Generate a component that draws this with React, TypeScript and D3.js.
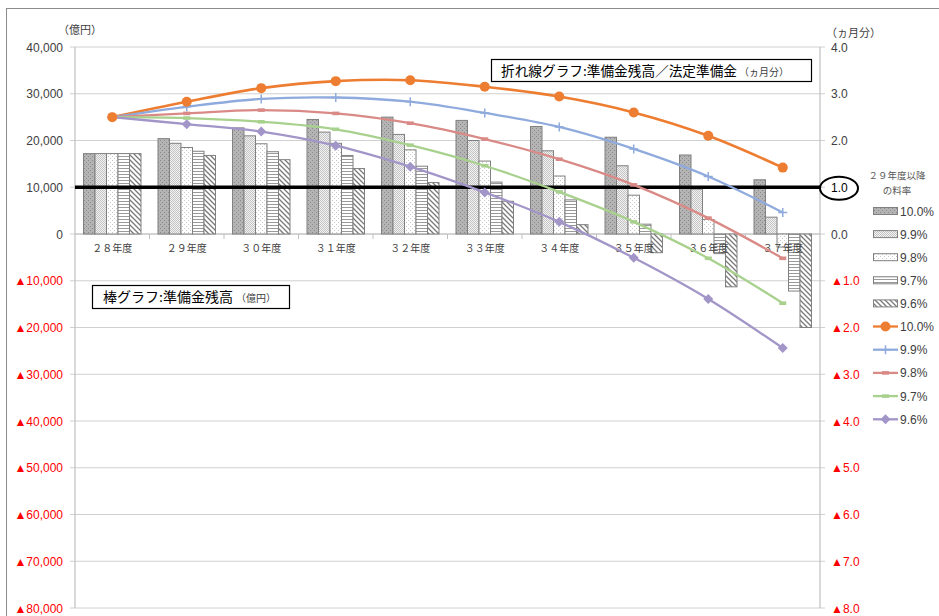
import React from "react";
import * as d3 from "d3";

const categories = ["２８年度", "２９年度", "３０年度", "３１年度", "３２年度", "３３年度", "３４年度", "３５年度", "３６年度", "３７年度"];
const seriesNames = ["10.0%", "9.9%", "9.8%", "9.7%", "9.6%"];

// 棒グラフ: 準備金残高 (億円)
const bar100 = [17200, 20400, 22700, 24500, 25000, 24300, 23000, 20700, 16900, 11600];
const bar99 = [17200, 19400, 21000, 21800, 21300, 20000, 17800, 14600, 9600, 3600];
const bar98 = [17200, 18500, 19300, 19400, 18000, 15600, 12400, 8300, 3100, -2800];
const bar97 = [17200, 17700, 17600, 16800, 14500, 11100, 7300, 2100, -4200, -12200];
const bar96 = [17200, 16800, 15900, 14000, 11000, 7000, 2000, -4000, -11300, -20000];

// 折れ線グラフ: 準備金残高／法定準備金 (ヵ月分)
const line100 = [2.5, 2.83, 3.12, 3.27, 3.29, 3.15, 2.94, 2.6, 2.1, 1.42];
const line99 = [2.5, 2.72, 2.89, 2.92, 2.83, 2.59, 2.29, 1.82, 1.23, 0.46];
const line98 = [2.5, 2.58, 2.65, 2.58, 2.37, 2.03, 1.6, 1.05, 0.34, -0.52];
const line97 = [2.5, 2.48, 2.4, 2.24, 1.9, 1.46, 0.9, 0.26, -0.52, -1.48];
const line96 = [2.5, 2.35, 2.19, 1.89, 1.44, 0.89, 0.26, -0.51, -1.39, -2.44];

const leftTicks = [40000, 30000, 20000, 10000, 0, -10000, -20000, -30000, -40000, -50000, -60000, -70000, -80000];
const rightTicks = [4, 3, 2, 1, 0, -1, -2, -3, -4, -5, -6, -7, -8];
const threshold = 1.0;

const bars = [bar100, bar99, bar98, bar97, bar96];
const lines = [line100, line99, line98, line97, line96];
const barFills = ["url(#p100)", "url(#p99)", "url(#p98)", "url(#p97)", "url(#p96)"];
const lineColors = ["#ED7D31", "#8FAADC", "#DA8A86", "#A9D18E", "#A295C8"];
const markers = ["circle", "plus", "dash", "dash", "diamond"];

const W = 939;
const H = 616;
const L = 75;
const R = 820;
const T = 47;
const B = 608;

const jp = "'Noto Sans CJK JP', 'Noto Sans', sans-serif";
const lat = "'Liberation Sans', Arial, sans-serif";

function Marker({ type, x, y, color }: { type: string; x: number; y: number; color: string }) {
  if (type === "circle") return <circle cx={x} cy={y} r={5} fill={color} />;
  if (type === "diamond")
    return <path d={`M${x},${y - 5}L${x + 5},${y}L${x},${y + 5}L${x - 5},${y}Z`} fill={color} />;
  if (type === "plus")
    return (
      <path d={`M${x - 4.5},${y}H${x + 4.5}M${x},${y - 4.5}V${y + 4.5}`} stroke={color} strokeWidth={1.5} fill="none" />
    );
  return <rect x={x - 3.5} y={y - 1.8} width={7} height={3.6} fill={color} />;
}

export default function App() {
  const x0 = d3.scaleBand<string>().domain(categories).range([L, R]).padding(0);
  const x1 = d3.scaleBand<string>().domain(seriesNames).range([8.5, x0.bandwidth() - 8.5]).padding(0);
  const yL = d3.scaleLinear().domain([-80000, 40000]).range([B, T]);
  const yR = d3.scaleLinear().domain([-8, 4]).range([B, T]);
  const cx = (c: string) => (x0(c) as number) + x0.bandwidth() / 2;

  const lineGen = d3
    .line<number>()
    .x((_, i) => cx(categories[i]))
    .y((v) => yR(v))
    .curve(d3.curveCatmullRom.alpha(0));

  const fmt = d3.format(",");

  return (
    <svg width={W} height={H} style={{ position: "absolute", left: 0, top: 0, background: "#fff" }}>
      <defs>
        <pattern id="p100" width="4" height="4" patternUnits="userSpaceOnUse">
          <rect width="4" height="4" fill="#b4b4b4" />
          <rect x="0" y="0" width="1" height="1" fill="#8a8a8a" />
          <rect x="2" y="2" width="1" height="1" fill="#8a8a8a" />
        </pattern>
        <pattern id="p99" width="2" height="2" patternUnits="userSpaceOnUse">
          <rect width="2" height="2" fill="#f2f2f2" />
          <rect x="0" y="0" width="1" height="1" fill="#c4c4c4" />
          <rect x="1" y="1" width="1" height="1" fill="#c4c4c4" />
        </pattern>
        <pattern id="p98" width="4" height="4" patternUnits="userSpaceOnUse">
          <rect width="4" height="4" fill="#ffffff" />
          <rect x="0" y="0" width="1" height="1" fill="#c8c8c8" />
          <rect x="2" y="2" width="1" height="1" fill="#c8c8c8" />
        </pattern>
        <pattern id="p97" width="4" height="3" patternUnits="userSpaceOnUse">
          <rect width="4" height="3" fill="#ffffff" />
          <rect x="0" y="0" width="4" height="1" fill="#9a9a9a" />
        </pattern>
        <pattern id="p96" width="5" height="5" patternUnits="userSpaceOnUse">
          <rect width="5" height="5" fill="#ffffff" />
          <path d="M0,0L5,5M-1,4L1,6M4,-1L6,1" stroke="#7a7a7a" strokeWidth="1.3" />
        </pattern>
      </defs>

      {/* outer chart border */}
      <rect x={6.5} y={8.5} width={W + 10} height={H + 10} fill="none" stroke="#8c8c8c" strokeWidth={1} />

      {/* gridlines */}
      {leftTicks.map((t) => (
        <line key={"g" + t} x1={L - 5} x2={R + 5} y1={yL(t)} y2={yL(t)} stroke="#d0d0d0" strokeWidth={1} />
      ))}
      {/* axes */}
      <line x1={L} x2={L} y1={T} y2={B} stroke="#c0c0c0" strokeWidth={1.2} />
      <line x1={R} x2={R} y1={T} y2={B} stroke="#c0c0c0" strokeWidth={1.2} />
      <line x1={L} x2={R} y1={yL(0)} y2={yL(0)} stroke="#c0c0c0" strokeWidth={1} />
      {categories.map((c, i) =>
        i === 0 ? null : (
          <line key={"ct" + c} x1={x0(c)} x2={x0(c)} y1={yL(0)} y2={yL(0) + 5} stroke="#c0c0c0" />
        )
      )}

      {/* left tick labels */}
      {leftTicks.map((t) => (
        <text
          key={"lt" + t}
          x={63}
          y={yL(t) + 4.5}
          textAnchor="end"
          fontFamily={lat}
          fontSize={12}
          fill={t < 0 ? "#ff0000" : "#404040"}
        >
          {t < 0 ? "▲" + fmt(-t) : fmt(t)}
        </text>
      ))}
      {/* right tick labels */}
      {rightTicks.map((t) => (
        <text
          key={"rt" + t}
          x={831}
          y={yR(t) + 4.5}
          textAnchor="start"
          fontFamily={lat}
          fontSize={12}
          fill={t < 0 ? "#ff0000" : t === threshold ? "#000" : "#404040"}
        >
          {t < 0 ? "▲" + (-t).toFixed(1) : t.toFixed(1)}
        </text>
      ))}
      <text x={58} y={34} fontFamily={jp} fontSize={11} fill="#404040">
        （億円）
      </text>
      <text x={826} y={37} fontFamily={jp} fontSize={11} fill="#404040">
        （ヵ月分）
      </text>

      {/* bars */}
      {bars.map((arr, s) =>
        arr.map((v, i) => {
          const c = categories[i];
          const bx = (x0(c) as number) + (x1(seriesNames[s]) as number);
          const y = yL(Math.max(v, 0));
          const h = Math.abs(yL(v) - yL(0));
          return (
            <rect
              key={"b" + s + "-" + i}
              x={bx}
              y={y}
              width={x1.bandwidth()}
              height={h}
              fill={barFills[s]}
              stroke="#808080"
              strokeWidth={1}
            />
          );
        })
      )}

      {/* threshold line */}
      <line x1={L} x2={R} y1={yR(threshold)} y2={yR(threshold)} stroke="#000" strokeWidth={3.5} />
      <ellipse cx={839} cy={yR(threshold) + 1} rx={19} ry={11.5} fill="none" stroke="#000" strokeWidth={2} />

      {/* category labels */}
      {categories.map((c) => (
        <text key={"cl" + c} x={cx(c)} y={252} textAnchor="middle" fontFamily={jp} fontSize={10} fill="#404040">
          {c}
        </text>
      ))}

      {/* lines */}
      {lines.map((arr, s) => (
        <g key={"l" + s}>
          <path d={lineGen(arr) || ""} fill="none" stroke={lineColors[s]} strokeWidth={s === 0 ? 2.6 : 2.3} />
        </g>
      ))}
      {lines
        .map((arr, s) => ({ arr, s }))
        .reverse()
        .map(({ arr, s }) => (
          <g key={"m" + s}>
            {arr.map((v, i) => (
              <Marker key={i} type={markers[s]} x={cx(categories[i])} y={yR(v)} color={lineColors[s]} />
            ))}
          </g>
        ))}

      {/* annotation boxes */}
      <rect x={491.5} y={59.5} width={320} height={22} fill="#fff" stroke="#000" strokeWidth={1.2} />
      <text x={501} y={76} fontFamily={jp} fontSize={13.5} fill="#000">
        <tspan textLength={236} lengthAdjust="spacingAndGlyphs">折れ線グラフ:準備金残高／法定準備金</tspan>
        <tspan fontSize={10} dx={2} fill="#404040">（ヵ月分）</tspan>
      </text>
      <rect x={92.5} y={285.5} width={197} height={23} fill="#fff" stroke="#000" strokeWidth={1.2} />
      <text x={103} y={302} fontFamily={jp} fontSize={13.5} fill="#000">
        <tspan textLength={130} lengthAdjust="spacingAndGlyphs">棒グラフ:準備金残高</tspan>
        <tspan fontSize={10} dx={3} fill="#404040">（億円）</tspan>
      </text>

      {/* legend */}
      <text x={897} y={179} textAnchor="middle" fontFamily={jp} fontSize={9.5} fill="#595959">
        ２９年度以降
      </text>
      <text x={897} y={194} textAnchor="middle" fontFamily={jp} fontSize={9.5} fill="#595959">
        の料率
      </text>
      {seriesNames.map((n, s) => {
        const yy = 211 + s * 23.1;
        return (
          <g key={"lb" + s}>
            <rect x={873.5} y={yy - 3.5} width={24} height={7} fill={barFills[s]} stroke="#808080" strokeWidth={1} />
            <text x={900} y={yy + 4.5} fontFamily={lat} fontSize={12} fill="#404040">
              {n}
            </text>
          </g>
        );
      })}
      {seriesNames.map((n, s) => {
        const yy = 326.5 + s * 23.2;
        return (
          <g key={"ll" + s}>
            <line x1={873} x2={898} y1={yy} y2={yy} stroke={lineColors[s]} strokeWidth={2.3} />
            <Marker type={markers[s]} x={885.5} y={yy} color={lineColors[s]} />
            <text x={900} y={yy + 4.5} fontFamily={lat} fontSize={12} fill="#404040">
              {n}
            </text>
          </g>
        );
      })}
    </svg>
  );
}
